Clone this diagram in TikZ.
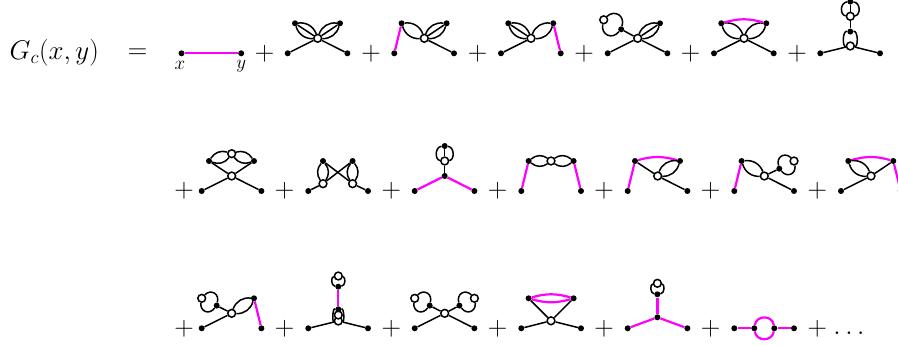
\documentclass[tikz,border=0pt]{standalone}
\usepackage{fix-cm}
\begin{document}
\newcommand\bigf{\fontsize{27}{32}\selectfont}
\newcommand\smallf{\fontsize{19}{22}\selectfont}
\definecolor{mg}{RGB}{255,0,255}
\tikzset{
  x=1pt,y=-1pt,
  dot/.style={circle,fill=black,draw=none,inner sep=0pt,minimum size=6pt},
  hole/.style={circle,fill=white,draw=black,line width=1.5pt,inner sep=0pt,minimum size=7.8pt},
  ln/.style={line width=1.5pt,black},
  mag/.style={line width=2.2pt,mg},
  sym/.style={inner sep=0pt,font=\bigf},
  lab/.style={inner sep=0pt,font=\smallf}
}
\newcommand\legs{\node[dot] (L) at (0,0) {}; \node[dot] (R) at (59.7,0) {};}
\newcommand\tops{\node[dot] (TL) at (7.3,-30) {}; \node[dot] (TR) at (52.3,-30) {};}
\newcommand\cen{\node[hole] (C) at (30,-15) {};}
\newcommand\petal[2]{\draw[ln] (#1) to[bend left=38] (#2); \draw[ln] (#1) to[bend right=38] (#2);}
\newcommand\petalc[2]{\petal{#1}{#2}\draw[ln] (#1) -- (#2);}
\newcommand\tad[2]{\draw[ln] (#1) to[bend left=75,looseness=1.55] (#2); \draw[ln] (#1) to[bend right=75,looseness=1.55] (#2);}
\newcommand\vloop[3]{\draw[ln] (#1) .. controls +(-#3,-1) and +(-#3,1) .. (#2); \draw[ln] (#1) .. controls +(#3,-1) and +(#3,1) .. (#2);}
\newcommand\dia[1]{\begin{scope}[shift={#1}]}
\begin{tikzpicture}
\useasboundingbox (0,0) rectangle (898,345);
\node[sym,anchor=base west] (G) at (9.5,59.7) {$G_c(x,y)$};
\node[sym] (eq) at (137.5,54) {$=$};
\foreach \i/\px/\py in {a/264.7/53.3,b/371.2/53.3,c/477.7/53.3,d/584.2/53.3,e/690.7/53.3,f/797.2/53.3,
 g/184/191,h/284.7/191,i/391.3/191,j/497.5/191,k/604/191,l/710.7/191,m/817.3/191,
 n/184/328.3,o/284.7/328.3,p/391.3/328.3,q/497.5/328.3,r/604/328.3,s/710.7/328.3,t/817.3/328.3}
  {\node[sym] (plus\i) at (\px,\py) {$+$};}
\node[sym,anchor=base] (dots) at (849,334.5) {$\ldots$};
% D1
\dia{(181.5,53.3)}
 \node[dot] (A) at (0,0) {}; \node[dot] (B) at (59.7,0) {};
 \draw[mag] (A) -- (B);
 \node[lab] (lx) at (-1.5,12) {$x$}; \node[lab] (ly) at (59.7,13) {$y$};
\end{scope}
% D2
\dia{(287.7,53.3)} \legs\tops\cen
 \draw[ln] (L)--(C); \draw[ln] (R)--(C); \petalc{TL}{C} \petalc{TR}{C}
\end{scope}
% D3
\dia{(394.3,53.3)} \legs\tops\cen
 \draw[mag] (L)--(TL); \draw[ln] (R)--(C); \petal{TL}{C} \petalc{TR}{C}
\end{scope}
% D4
\dia{(501,53.3)} \legs\tops\cen
 \draw[mag] (R)--(TR); \draw[ln] (L)--(C); \petalc{TL}{C} \petal{TR}{C}
\end{scope}
% D5
\dia{(607.7,53.3)} \legs\cen
 \node[dot] (TR) at (52.3,-30) {}; \node[dot] (K) at (13.5,-24) {}; \node[hole] (H) at (-4,-33.5) {};
 \draw[ln] (L)--(C); \draw[ln] (R)--(C); \petalc{TR}{C} \draw[ln] (C)--(K); \tad{K}{H}
\end{scope}
% D6
\dia{(714,53.3)} \legs\tops\cen
 \draw[ln] (L)--(C); \draw[ln] (R)--(C); \petal{TL}{C} \petal{TR}{C}
 \draw[mag] (TL) to[bend left=16] (TR);
\end{scope}
% D7
\dia{(820.3,53.3)} \legs
 \node[hole] (C) at (30,-7.3) {}; \node[dot] (M) at (30,-21.7) {}; \node[hole] (U) at (30,-37) {}; \node[dot] (T) at (30,-51.7) {};
 \draw[ln] (L)--(C); \draw[ln] (R)--(C); \vloop{M}{C}{8} \draw[ln] (M)--(U); \draw[ln] (U)--(T);
 \vloop{U}{T}{10.5}
\end{scope}
% D8
\dia{(201.7,191)} \legs\tops\cen
 \node[hole] (H) at (30,-37.3) {};
 \draw[ln] (L)--(C); \draw[ln] (R)--(C); \draw[ln] (TL)--(C); \draw[ln] (TR)--(C);
 \petal{TL}{H} \petal{H}{TR}
\end{scope}
% D9
\dia{(308.3,191)} \legs
 \node[dot] (TL) at (14.7,-30) {}; \node[dot] (TR) at (44.3,-30) {};
 \node[hole] (HL) at (14.7,-7.3) {}; \node[hole] (HR) at (44.3,-7.3) {};
 \draw[ln] (L)--(HL); \draw[ln] (R)--(HR); \draw[ln] (TL)--(HR); \draw[ln] (TR)--(HL);
 \petal{TL}{HL} \petal{TR}{HR}
\end{scope}
% D10
\dia{(414.7,191)} \legs
 \node[dot] (C) at (30,-15) {}; \node[hole] (U) at (30,-30) {}; \node[dot] (T) at (30,-45) {};
 \draw[mag] (L)--(C); \draw[mag] (R)--(C); \draw[ln] (C)--(U); \draw[ln] (U)--(T);
 \vloop{U}{T}{10}
\end{scope}
% D11
\dia{(521.3,191)} \legs\tops
 \node[hole] (H) at (29.7,-30) {};
 \draw[mag] (L)--(TL); \draw[mag] (R)--(TR); \petal{TL}{H} \petal{H}{TR}
\end{scope}
% D12
\dia{(627.7,191)} \legs\tops\cen
 \draw[mag] (L)--(TL); \draw[mag] (TL) to[bend left=16] (TR);
 \draw[ln] (TL)--(C); \draw[ln] (R)--(C); \petal{TR}{C}
\end{scope}
% D13
\dia{(734.3,191)} \legs\cen
 \node[dot] (TL) at (7.3,-30) {}; \node[dot] (K) at (45,-22.3) {}; \node[hole] (H) at (59.7,-30) {};
 \draw[mag] (L)--(TL); \draw[ln] (R)--(C); \petal{TL}{C} \draw[ln] (C)--(K); \tad{K}{H}
\end{scope}
% D14
\dia{(841,191)} \legs\tops\cen
 \draw[mag] (R)--(TR); \draw[mag] (TL) to[bend left=16] (TR);
 \draw[ln] (TR)--(C); \draw[ln] (L)--(C); \petal{TL}{C}
\end{scope}
% D15
\dia{(201.7,328.3)} \legs\cen
 \node[dot] (TR) at (52.3,-30) {}; \node[dot] (K) at (15,-22.7) {}; \node[hole] (H) at (0,-30) {};
 \draw[mag] (R)--(TR); \draw[ln] (L)--(C); \petal{TR}{C} \draw[ln] (C)--(K); \tad{K}{H}
\end{scope}
% D16
\dia{(308.3,328.3)} \legs
 \node[hole] (C) at (30,-7.3) {}; \node[hole] (I) at (30,-13.3) {}; \node[dot] (M) at (30,-19) {}; \node[dot] (B) at (30,-41.6) {};
 \node[hole] (U) at (30,-52.3) {};
 \draw[ln] (L)--(C); \draw[ln] (R)--(C); \draw[mag] (M)--(B);
 \vloop{M}{C}{6}
 \vloop{B}{U}{7.5}
\end{scope}
% D17
\dia{(414.7,328.3)} \legs\cen
 \node[dot] (K) at (15,-22.7) {}; \node[hole] (H) at (0,-30) {};
 \node[dot] (K2) at (44.7,-22.7) {}; \node[hole] (H2) at (59.7,-30) {};
 \draw[ln] (L)--(C); \draw[ln] (R)--(C); \draw[ln] (C)--(K); \draw[ln] (C)--(K2);
 \tad{K}{H} \tad{K2}{H2}
\end{scope}
% D18
\dia{(521.3,328.3)} \legs\tops
 \node[hole] (C) at (29.7,-7.5) {};
 \draw[ln] (L)--(C); \draw[ln] (R)--(C); \draw[ln] (TL)--(C); \draw[ln] (TR)--(C);
 \draw[mag] (TL) to[bend left=16] (TR); \draw[mag] (TL) to[bend right=16] (TR);
\end{scope}
% D19
\dia{(627.7,328.3)} \legs
 \node[dot] (C) at (29.7,-11) {}; \node[dot] (B) at (29.7,-34) {}; \node[hole] (U) at (29.7,-45) {};
 \draw[mag] (L)--(C); \draw[mag] (R)--(C); \draw[mag] (C)--(B);
 \vloop{B}{U}{7.5}
\end{scope}
% D20
\dia{(734.3,328.3)} \legs
 \node[dot] (P) at (20,0) {}; \node[dot] (Q) at (40,0) {};
 \draw[mag] (L)--(P); \draw[mag] (Q)--(R);
 \draw[mag] (P) .. controls +(2,-13.5) and +(-2,-13.5) .. (Q); \draw[mag] (P) .. controls +(2,13.5) and +(-2,13.5) .. (Q);
\end{scope}
\end{tikzpicture}
\end{document}
